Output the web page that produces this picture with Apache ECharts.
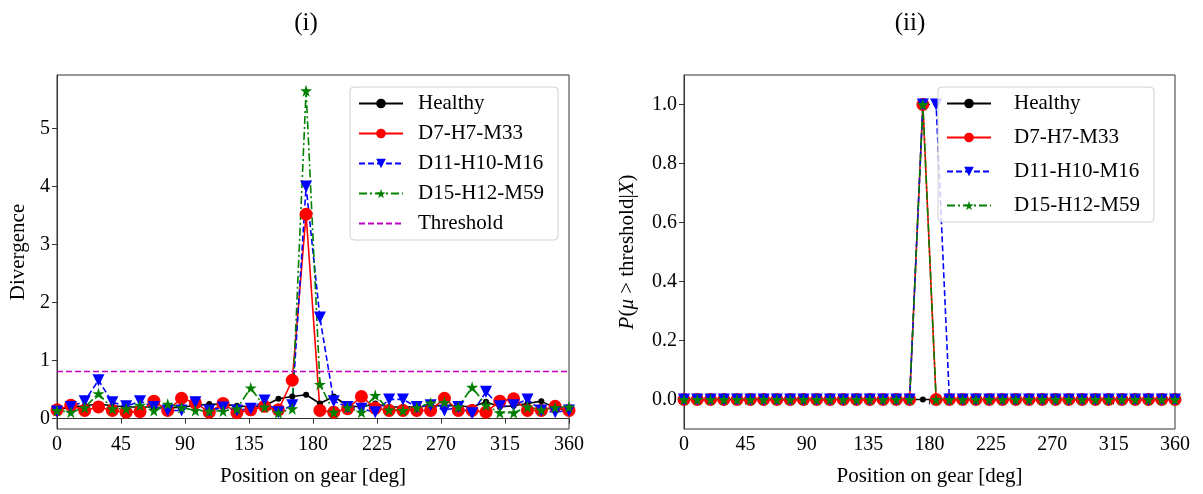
<!DOCTYPE html>
<html>
<head>
<meta charset="utf-8">
<script src="https://cdn.jsdelivr.net/npm/echarts@6/dist/echarts.min.js"></script>
<style>
  html, body { margin: 0; padding: 0; background: #fff; }
  #chart { width: 1203px; height: 494px; }
</style>
</head>
<body>
<div id="chart"></div>
<script>
// position on gear [deg], 38 samples
const positions = [0, 9.73, 19.46, 29.19, 38.92, 48.65, 58.38, 68.11, 77.84, 87.57,
  97.30, 107.03, 116.76, 126.49, 136.22, 145.95, 155.68, 165.41, 175.14, 184.86,
  194.59, 204.32, 214.05, 223.78, 233.51, 243.24, 252.97, 262.70, 272.43, 282.16,
  291.89, 301.62, 311.35, 321.08, 330.81, 340.54, 350.27, 360]

const seriesNames = ['Healthy', 'D7-H7-M33', 'D11-H10-M16', 'D15-H12-M59']

// panel (i): divergence
const divHealthy = [0.15, 0.2, 0.22, 0.25, 0.22, 0.2, 0.2, 0.2, 0.18, 0.2,
  0.22, 0.25, 0.24, 0.22, 0.2, 0.22, 0.34, 0.38, 0.41, 0.26,
  0.38, 0.22, 0.2, 0.26, 0.2, 0.2, 0.2, 0.22, 0.22, 0.22,
  0.2, 0.29, 0.2, 0.22, 0.26, 0.3, 0.18, 0.15]
const divD7 = [0.15, 0.23, 0.14, 0.2, 0.14, 0.11, 0.12, 0.3, 0.14, 0.35,
  0.27, 0.11, 0.26, 0.1, 0.15, 0.21, 0.15, 0.66, 3.52, 0.14,
  0.11, 0.17, 0.38, 0.18, 0.14, 0.14, 0.14, 0.14, 0.35, 0.14,
  0.14, 0.11, 0.3, 0.34, 0.14, 0.14, 0.21, 0.14]
const divD11 = [0.12, 0.2, 0.3, 0.66, 0.28, 0.21, 0.3, 0.2, 0.14, 0.14,
  0.28, 0.14, 0.19, 0.14, 0.17, 0.31, 0.11, 0.23, 4.0, 1.74,
  0.3, 0.2, 0.17, 0.11, 0.33, 0.33, 0.2, 0.23, 0.14, 0.2,
  0.09, 0.46, 0.21, 0.23, 0.33, 0.14, 0.11, 0.14]
const divD15 = [0.14, 0.11, 0.19, 0.43, 0.17, 0.17, 0.23, 0.14, 0.25, 0.19,
  0.14, 0.13, 0.13, 0.17, 0.53, 0.2, 0.1, 0.17, 5.65, 0.59,
  0.11, 0.19, 0.11, 0.4, 0.15, 0.14, 0.19, 0.27, 0.28, 0.2,
  0.54, 0.23, 0.1, 0.1, 0.2, 0.15, 0.19, 0.2]
const threshold = 0.81

// panel (ii): P(mu > threshold | X)
const probHealthy = [0, 0, 0, 0, 0, 0, 0, 0, 0, 0, 0, 0, 0, 0, 0, 0, 0, 0, 0, 0,
  0, 0, 0, 0, 0, 0, 0, 0, 0, 0, 0, 0, 0, 0, 0, 0, 0, 0]
const probD7 = [0, 0, 0, 0, 0, 0, 0, 0, 0, 0, 0, 0, 0, 0, 0, 0, 0, 0, 1, 0,
  0, 0, 0, 0, 0, 0, 0, 0, 0, 0, 0, 0, 0, 0, 0, 0, 0, 0]
const probD11 = [0, 0, 0, 0, 0, 0, 0, 0, 0, 0, 0, 0, 0, 0, 0, 0, 0, 0, 1, 1,
  0, 0, 0, 0, 0, 0, 0, 0, 0, 0, 0, 0, 0, 0, 0, 0, 0, 0]
const probD15 = [0, 0, 0, 0, 0, 0, 0, 0, 0, 0, 0, 0, 0, 0, 0, 0, 0, 0, 1, 0,
  0, 0, 0, 0, 0, 0, 0, 0, 0, 0, 0, 0, 0, 0, 0, 0, 0, 0]

const divTicks = [0, 1, 2, 3, 4, 5]
const probTicks = [0, 0.2, 0.4, 0.6, 0.8, 1.0]

const FONT = 'Liberation Serif'
const STAR = 'path://M50,0 L61,35 L98,35 L68,57 L79,91 L50,70 L21,91 L32,57 L2,35 L39,35 Z'

const styles = [
  { color: '#000000', symbol: 'circle', symbolSize: 6, type: 'solid', rotate: 0 },
  { color: '#ff0000', symbol: 'circle', symbolSize: 13, type: 'solid', rotate: 0 },
  { color: '#0000ff', symbol: 'triangle', symbolSize: 12, type: [6, 3], rotate: 180 },
  { color: '#008000', symbol: STAR, symbolSize: 12, type: [8, 3, 2, 3], rotate: 0 }
]

function zip (ys) {
  return positions.map((x, i) => [x, ys[i]])
}

function makeSeries (name, ys, s, axisIndex) {
  return {
    name: name,
    type: 'line',
    xAxisIndex: axisIndex,
    yAxisIndex: axisIndex,
    data: zip(ys),
    symbol: s.symbol,
    symbolSize: s.symbolSize,
    symbolRotate: s.rotate,
    showAllSymbol: true,
    itemStyle: { color: s.color },
    lineStyle: { color: s.color, width: 1.6, type: s.type },
    emphasis: { disabled: true },
    animation: false
  }
}

function xAxis (gridIndex) {
  return {
    type: 'value',
    gridIndex: gridIndex,
    min: 0,
    max: 360,
    interval: 45,
    name: 'Position on gear [deg]',
    nameLocation: 'middle',
    nameGap: 37,
    nameTextStyle: { fontFamily: FONT, fontSize: 21, color: '#000' },
    axisLine: { show: true, lineStyle: { color: '#333', width: 1 } },
    axisTick: { show: true, length: 5, lineStyle: { color: '#333' } },
    axisLabel: { fontFamily: FONT, fontSize: 20, color: '#000', margin: 6 },
    splitLine: { show: false }
  }
}

const tickLabel = { fontFamily: FONT, fontSize: 20, color: '#000', margin: 7 }

function legend (names, left, gap, textPad) {
  return {
    data: names,
    orient: 'vertical',
    left: left,
    top: 87,
    padding: [6, 14, 6, 8],
    itemWidth: 44,
    itemHeight: 12,
    itemGap: gap,
    borderColor: '#d0d0d0',
    borderWidth: 1,
    borderRadius: 4,
    backgroundColor: 'rgba(255,255,255,0.8)',
    textStyle: { fontFamily: FONT, fontSize: 21, color: '#000', padding: [0, 0, 0, textPad] },
    selectedMode: false
  }
}

const chart = echarts.init(document.getElementById('chart'), null, { renderer: 'canvas' })

chart.setOption({
  backgroundColor: '#fff',
  animation: false,
  title: [
    { text: '(i)', left: 301, top: 6, textAlign: 'center',
      textStyle: { fontFamily: FONT, fontSize: 25, fontWeight: 'normal', color: '#000' } },
    { text: '(ii)', left: 905, top: 6, textAlign: 'center',
      textStyle: { fontFamily: FONT, fontSize: 25, fontWeight: 'normal', color: '#000' } }
  ],
  grid: [
    { left: 57, top: 75, width: 512, height: 354, show: true, borderColor: '#333', borderWidth: 1 },
    { left: 684, top: 75, width: 491, height: 354, show: true, borderColor: '#333', borderWidth: 1 }
  ],
  legend: [
    legend(seriesNames.concat([{ name: 'Threshold', itemStyle: { opacity: 0 } }]), 350, 9, 10),
    legend(seriesNames, 938, 13, 18)
  ],
  xAxis: [xAxis(0), xAxis(1)],
  yAxis: [
    {
      type: 'value',
      gridIndex: 0,
      min: -0.18,
      max: 5.92,
      name: 'Divergence',
      nameLocation: 'middle',
      nameGap: 28,
      nameTextStyle: { fontFamily: FONT, fontSize: 21, color: '#000' },
      axisLine: { show: true, lineStyle: { color: '#333' } },
      axisTick: { show: true, length: 5, customValues: divTicks, lineStyle: { color: '#333' } },
      axisLabel: Object.assign({ customValues: divTicks }, tickLabel),
      splitLine: { show: false }
    },
    {
      type: 'value',
      gridIndex: 1,
      min: -0.1,
      max: 1.1,
      name: '{i|P}({i|μ} > threshold|{i|X})',
      nameLocation: 'middle',
      nameGap: 46,
      nameTextStyle: {
        fontFamily: FONT, fontSize: 21, color: '#000',
        rich: { i: { fontFamily: FONT, fontSize: 21, fontStyle: 'italic', color: '#000' } }
      },
      axisLine: { show: true, lineStyle: { color: '#333' } },
      axisTick: { show: true, length: 5, customValues: probTicks, lineStyle: { color: '#333' } },
      axisLabel: Object.assign({ customValues: probTicks, formatter: v => v.toFixed(1) }, tickLabel),
      splitLine: { show: false }
    }
  ],
  series: [
    makeSeries(seriesNames[0], divHealthy, styles[0], 0),
    makeSeries(seriesNames[1], divD7, styles[1], 0),
    makeSeries(seriesNames[2], divD11, styles[2], 0),
    makeSeries(seriesNames[3], divD15, styles[3], 0),
    {
      name: 'Threshold',
      type: 'line',
      xAxisIndex: 0,
      yAxisIndex: 0,
      data: [[0, threshold], [360, threshold]],
      symbol: 'none',
      itemStyle: { color: '#bf00bf' },
      lineStyle: { color: '#bf00bf', width: 1.6, type: [6, 3] },
      emphasis: { disabled: true }
    },
    makeSeries(seriesNames[0], probHealthy, styles[0], 1),
    makeSeries(seriesNames[1], probD7, styles[1], 1),
    makeSeries(seriesNames[2], probD11, styles[2], 1),
    makeSeries(seriesNames[3], probD15, styles[3], 1)
  ]
})
</script>
</body>
</html>
